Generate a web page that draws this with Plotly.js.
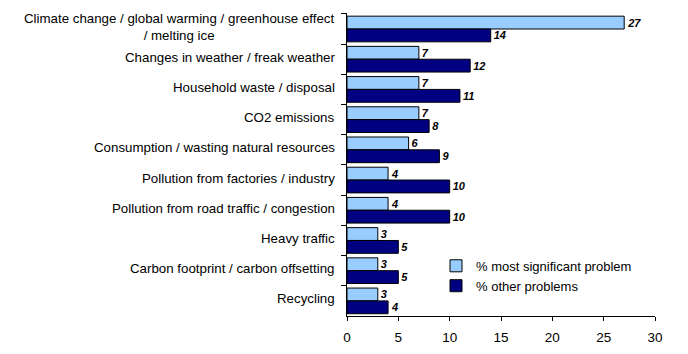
<!DOCTYPE html>
<html><head><meta charset="utf-8">
<script src="https://cdn.plot.ly/plotly-3.0.1.min.js"></script>
<style>html,body{margin:0;padding:0;background:#fff}#chart{width:688px;height:354px}</style>
</head><body><div id="chart"></div>
<script>
const categories = [
  "Climate change / global warming / greenhouse effect<br>/ melting ice",
  "Changes in weather / freak weather",
  "Household waste / disposal",
  "CO2 emissions",
  "Consumption / wasting natural resources",
  "Pollution from factories / industry",
  "Pollution from road traffic / congestion",
  "Heavy traffic",
  "Carbon footprint / carbon offsetting",
  "Recycling"
];
const mostSignificant = [27, 7, 7, 7, 6, 4, 4, 3, 3, 3];
const otherProblems = [14, 12, 11, 8, 9, 10, 10, 5, 5, 4];
const seriesNames = ["% most significant problem", "% other problems"];
const xTicks = [0, 5, 10, 15, 20, 25, 30];

const FONT = "Liberation Sans, Arial, sans-serif";
const labelFont = {family: FONT, size: 11, color: "#000", weight: "bold", style: "italic"};
function mk(vals, name, color) {
  return {
    type: "bar", orientation: "h", y: categories, x: vals, name: name,
    marker: {color: color, line: {color: "#000", width: 1}},
    text: vals.map(String), textposition: "outside", textfont: labelFont,
    cliponaxis: false, hoverinfo: "skip"
  };
}
const data = [
  mk(mostSignificant, seriesNames[0], "#99CCFF"),
  mk(otherProblems, seriesNames[1], "#000080")
];
const annotations = categories.map(c => ({
  xref: "paper", x: 0, yref: "y", y: c, xanchor: "right", yanchor: "middle",
  xshift: -10, yshift: 2, text: c, showarrow: false, align: "center",
  font: {family: FONT, size: 13.3, color: "#000"}
}));
const layout = {
  width: 688, height: 354,
  margin: {l: 347, r: 33, t: 13, b: 38},
  paper_bgcolor: "#fff", plot_bgcolor: "#fff",
  barmode: "group", bargap: 0.15, bargroupgap: 0,
  font: {family: FONT, size: 13, color: "#000"},
  showlegend: true,
  legend: {x: 0.289, y: 0.215, xanchor: "left", yanchor: "top", bgcolor: "rgba(0,0,0,0)",
           font: {family: FONT, size: 13}, traceorder: "normal", itemwidth: 30, tracegroupgap: 0},
  annotations: annotations,
  xaxis: {range: [0, 30], tickvals: xTicks, ticks: "outside", ticklen: 4, tickcolor: "#000",
          ticklabelstandoff: 5,
          showline: true, linecolor: "#000", linewidth: 1, showgrid: false, zeroline: false,
          tickfont: {family: FONT, size: 13.5}, fixedrange: true},
  yaxis: {autorange: "reversed", type: "category", ticks: "outside", ticklen: 5, tickcolor: "#000",
          tickson: "boundaries", showticklabels: false, showline: true, linecolor: "#000", linewidth: 1, showgrid: false,
          fixedrange: true}
};
Plotly.newPlot("chart", data, layout, {displayModeBar: false, staticPlot: true});
</script></body></html>
